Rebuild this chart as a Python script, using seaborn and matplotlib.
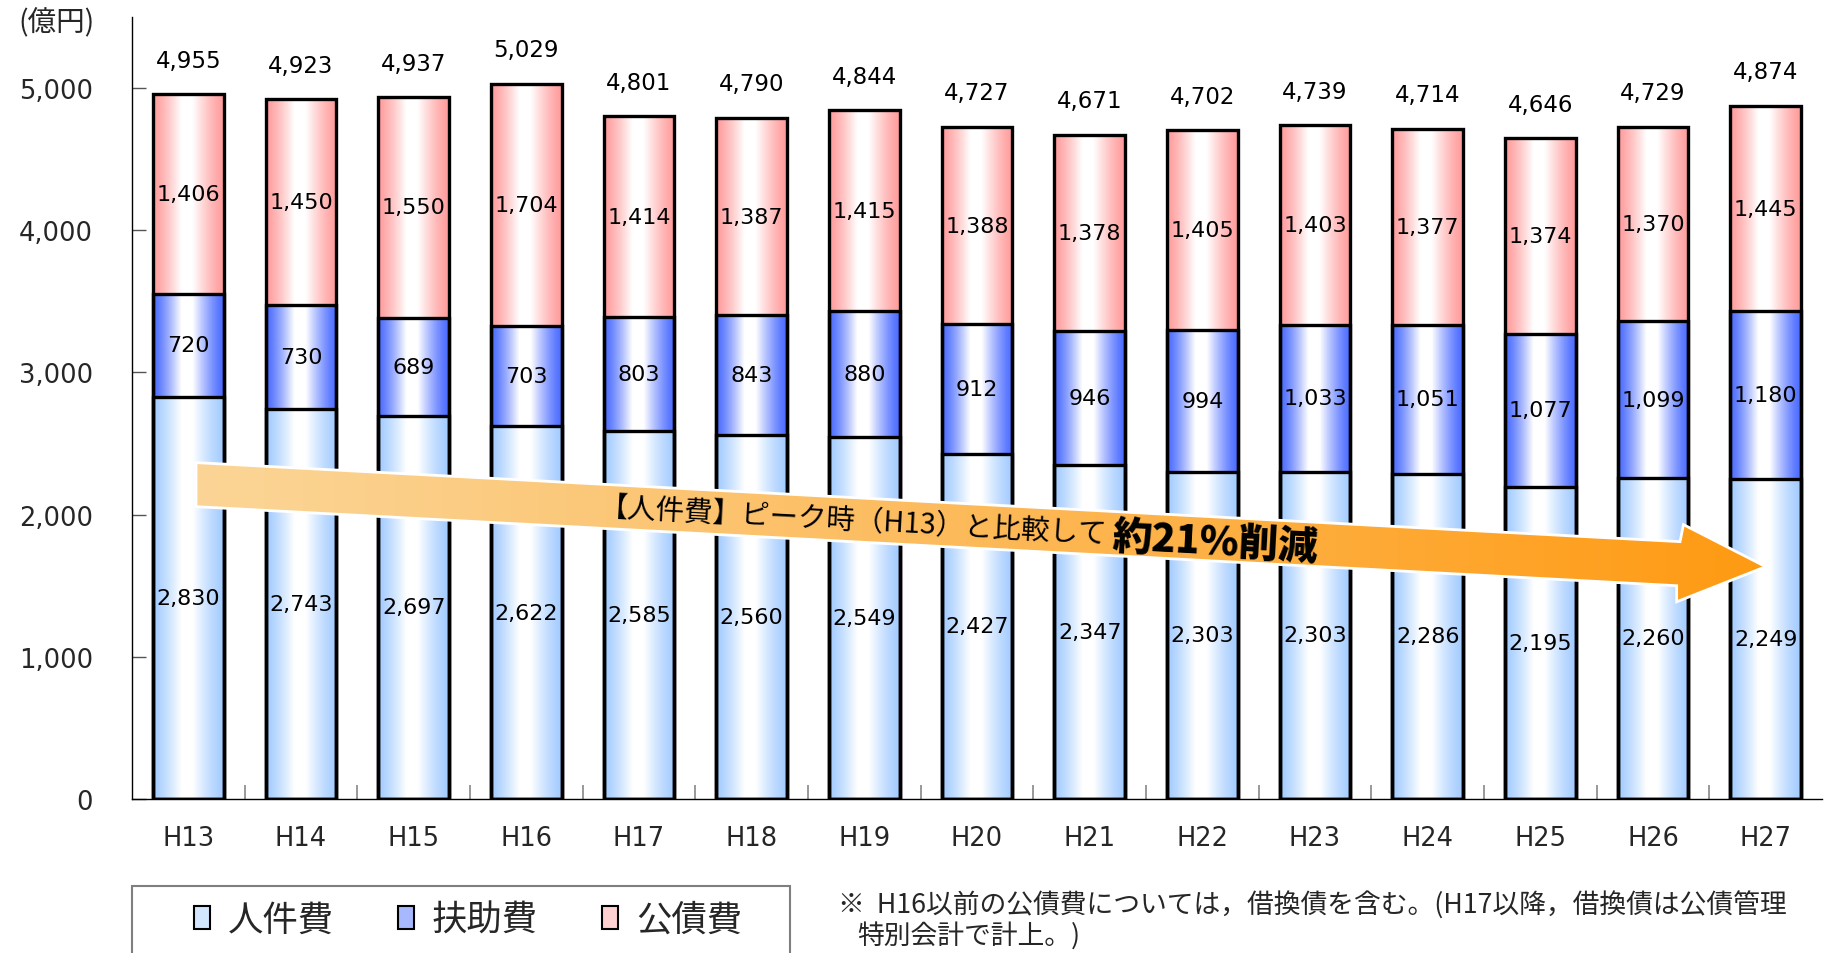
import numpy as np
import pandas as pd
import matplotlib
matplotlib.use("Agg")
import matplotlib.pyplot as plt
import seaborn as sns
from matplotlib.patches import Polygon, Rectangle, Patch
from matplotlib.colors import to_rgb
from matplotlib.ticker import FixedLocator, FuncFormatter

# ---------------- data ----------------
years = ["H13", "H14", "H15", "H16", "H17", "H18", "H19", "H20",
         "H21", "H22", "H23", "H24", "H25", "H26", "H27"]
personnel = [2830, 2743, 2697, 2622, 2585, 2560, 2549, 2427,
             2347, 2303, 2303, 2286, 2195, 2260, 2249]
assistance = [720, 730, 689, 703, 803, 843, 880, 912,
              946, 994, 1033, 1051, 1077, 1099, 1180]
debt = [1406, 1450, 1550, 1704, 1414, 1387, 1415, 1388,
        1378, 1405, 1403, 1377, 1374, 1370, 1445]
totals = [4955, 4923, 4937, 5029, 4801, 4790, 4844, 4727,
          4671, 4702, 4739, 4714, 4646, 4729, 4874]
series_names = ["人件費", "扶助費", "公債費"]
y_ticks = [0, 1000, 2000, 3000, 4000, 5000]
unit_label = "(億円)"
arrow_text = "【人件費】ピーク時（H13）と比較して"
arrow_emph = "約21%削減"
note_line1 = "※  H16以前の公債費については，借換債を含む。(H17以降，借換債は公債管理"
note_line2 = "特別会計で計上。)"

# ---------------- style ----------------
sns.set_theme(style="white")
plt.rcParams["font.family"] = ["DejaVu Sans", "Noto Sans CJK JP"]
JP = ["Noto Sans CJK JP", "DejaVu Sans"]

W, H = 1829, 954
fig = plt.figure(figsize=(W / 100, H / 100), dpi=100)
ax = fig.add_axes([132 / W, 1 - 800 / H, (1822 - 132) / W, (800 - 18) / H])

df = pd.DataFrame({"year": years, "p": personnel, "a": assistance, "d": debt})
df["pa"] = df["p"] + df["a"]
df["pad"] = df["pa"] + df["d"]

edge_col = {"p": "#A3CCFF", "a": "#4A6BFF", "d": "#FF9C9C"}
layers = [("pad", "d"), ("pa", "a"), ("p", "p")]
bar_w = 0.63


def grad_rgb(edge, n=256):
    t = np.linspace(0, 1, n)
    w = np.where(t < 0.40, t / 0.40, np.where(t > 0.56, (1 - t) / 0.44, 1.0))
    w = np.clip(w, 0, 1) ** 1.3
    e = np.array(to_rgb(edge))
    return (e[None, :] * (1 - w[:, None]) + w[:, None])[None, :, :]


for li, (col, key) in enumerate(layers):
    n0 = len(ax.patches)
    sns.barplot(data=df, x="year", y=col, order=years, color=edge_col[key],
                saturation=1, width=bar_w, errorbar=None, ax=ax,
                edgecolor="black", linewidth=2.4, zorder=3)
    img = grad_rgb(edge_col[key])
    for p in ax.patches[n0:]:
        p.set_facecolor("none")
        x0, y0 = p.get_x(), p.get_y()
        im = ax.imshow(img, extent=(x0, x0 + p.get_width(), y0, y0 + p.get_height()),
                       aspect="auto", interpolation="bilinear", zorder=1 + 0.1 * li)
        im.set_clip_path(p)

# segment labels
for i in range(len(years)):
    p, a, d = personnel[i], assistance[i], debt[i]
    for val, mid in [(p, p / 2), (a, p + a / 2), (d, p + a + d / 2)]:
        ax.text(i, mid, f"{val:,}", ha="center", va="center", fontsize=16,
                color="black", zorder=7)
    ax.annotate(f"{totals[i]:,}", xy=(i, p + a + d), xytext=(0, 24.5),
                textcoords="offset points", ha="center", va="center",
                fontsize=16.5, color="black", zorder=7)

# ---------------- arrow ----------------
arrow_pts = [(0.068, 2366), (13.24, 1810), (13.27, 1930), (14.0, 1634),
             (13.21, 1387), (13.21, 1500), (0.068, 2056)]
arrow_poly = Polygon(arrow_pts, closed=True, facecolor="none",
                     edgecolor="white", linewidth=2.0, zorder=5)
ax.add_patch(arrow_poly)
c0 = np.array(to_rgb("#FBD596"))
c1 = np.array(to_rgb("#FF9A12"))
tt = np.linspace(0, 1, 256) ** 1.1
arr_img = (c0[None, :] * (1 - tt[:, None]) + c1[None, :] * tt[:, None])[None, :, :]
aim = ax.imshow(arr_img, extent=(0.068, 14.0, 1387, 2366), aspect="auto",
                interpolation="bilinear", zorder=4.5)
aim.set_clip_path(arrow_poly)

ax.text(3.64, 2045, arrow_text, rotation=-3.05, rotation_mode="anchor",
        ha="left", va="center", fontsize=20.5, family=JP, color="black", zorder=6)
ax.text(8.20, 1845, arrow_emph, rotation=-3.05, rotation_mode="anchor",
        ha="left", va="center", fontsize=28.5, family=JP, fontweight="heavy",
        color="black", zorder=6)

# ---------------- axes ----------------
ax.set_xlim(-0.5, len(years) - 0.5)
ax.set_ylim(0, 5500)
ax.set_xlabel("")
ax.set_ylabel("")
for s in ["top", "right"]:
    ax.spines[s].set_visible(False)
for s in ["left", "bottom"]:
    ax.spines[s].set_color("black")
    ax.spines[s].set_linewidth(1.0)
    ax.spines[s].set_zorder(8)

ax.yaxis.set_major_locator(FixedLocator(y_ticks))
ax.yaxis.set_major_formatter(FuncFormatter(lambda v, _: f"{int(v):,}"))
ax.tick_params(axis="y", direction="in", length=10, width=1, color="#555555",
               labelsize=18.5, pad=28, left=True)
ax.tick_params(axis="x", which="major", length=0, labelsize=18.5, pad=19)
ax.xaxis.set_minor_locator(FixedLocator(np.arange(0.5, len(years) - 0.5, 1.0)))
ax.tick_params(axis="x", which="minor", direction="in", length=10, width=1.2,
               color="#888888", bottom=True)

# ---------------- legend ----------------
fig.patches.append(Rectangle((132 / W, -0.02), (790 - 132) / W, 0.02 + 1 - 887 / H,
                             transform=fig.transFigure, facecolor="white",
                             edgecolor="#7f7f7f", linewidth=1.5))
leg_cols = ["#D2E7FF", "#A8B8FF", "#FFD0D0"]
handles = [Patch(facecolor=c, edgecolor="black", linewidth=1.5) for c in leg_cols]
fig.legend(handles, series_names, loc="center left",
           bbox_to_anchor=(194 / W, 1 - 921 / H), ncol=3, frameon=False,
           prop={"family": JP, "size": 25.5}, handlelength=0.46, handleheight=0.6,
           handletextpad=0.5, columnspacing=1.8, borderpad=0, borderaxespad=0)

# ---------------- texts ----------------
fig.text(18 / W, 1 - 23 / H, unit_label, fontsize=20.5, family=JP,
         ha="left", va="center")
fig.text(838 / W, 1 - 906 / H, note_line1, fontsize=19.3, family=JP,
         ha="left", va="center")
fig.text(857 / W, 1 - 936 / H, note_line2, fontsize=19.3, family=JP,
         ha="left", va="center")

fig.savefig("out.png", dpi=100)
